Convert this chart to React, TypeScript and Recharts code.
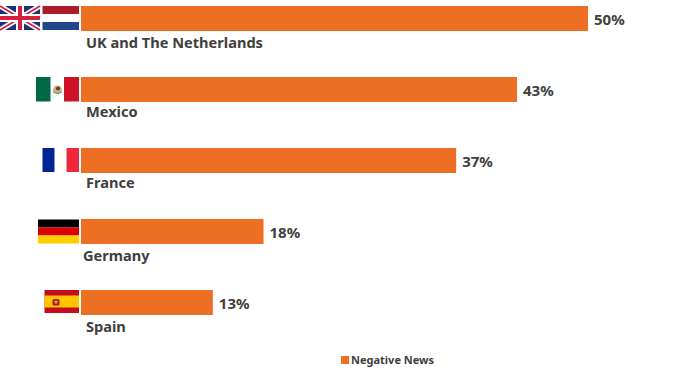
import React from "react";
import { BarChart, Bar, XAxis, YAxis, LabelList, Legend } from "recharts";

const categories = ["UK and The Netherlands", "Mexico", "France", "Germany", "Spain"];
const negativeNews = [50, 43, 37, 18, 13];
const seriesName = "Negative News";
const ORANGE = "#EC6F23";
const TEXT = "#404040";
const FONT = "'Noto Sans', sans-serif";

const rows = categories.map((name, i) => ({ name, value: negativeNews[i] }));

const labelDx = [5, 5, 5, 2, 5];
const labelDy = [29.5, 27.5, 27.5, 29, 29.5];

function Flag({ index }: { index: number }) {
  // local coordinates: x=0 is the axis line (flag right edge just left of it), y=0 is the row centre
  if (index === 0) {
    return (
      <g>
        <rect x={-81} y={-12.5} width={40} height={24} fill="#1D2F7F" />
        <line x1={-81} y1={-12.5} x2={-41} y2={11.5} stroke="#fff" strokeWidth={5} />
        <line x1={-81} y1={11.5} x2={-41} y2={-12.5} stroke="#fff" strokeWidth={5} />
        <line x1={-81} y1={-12.5} x2={-41} y2={11.5} stroke="#D5203C" strokeWidth={1.6} />
        <line x1={-81} y1={11.5} x2={-41} y2={-12.5} stroke="#D5203C" strokeWidth={1.6} />
        <rect x={-81} y={-4.5} width={40} height={8} fill="#fff" />
        <rect x={-65} y={-12.5} width={8} height={24} fill="#fff" />
        <rect x={-81} y={-2.5} width={40} height={4} fill="#D5203C" />
        <rect x={-63} y={-12.5} width={4} height={24} fill="#D5203C" />
        <rect x={-38.5} y={-12.5} width={36.5} height={8} fill="#AE1C28" />
        <rect x={-38.5} y={3.5} width={36.5} height={8} fill="#21468B" />
      </g>
    );
  }
  if (index === 1) {
    return (
      <g>
        <rect x={-45} y={-12.5} width={14.5} height={24.5} fill="#006847" />
        <rect x={-17} y={-12.5} width={15} height={24.5} fill="#CE1126" />
        <ellipse cx={-23.5} cy={0} rx={4.5} ry={4} fill="#C9B28E" />
        <circle cx={-23} cy={-1} r={2} fill="#6B3A1E" />
        <path d="M-28,2 Q-23.5,6 -19,2" stroke="#3E8A5C" strokeWidth={1} fill="none" />
      </g>
    );
  }
  if (index === 2) {
    return (
      <g>
        <rect x={-38.5} y={-12.5} width={12} height={24} fill="#002395" />
        <rect x={-14.5} y={-12.5} width={12.5} height={24} fill="#ED2939" />
      </g>
    );
  }
  if (index === 3) {
    return (
      <g>
        <rect x={-43} y={-12} width={41} height={8} fill="#000000" />
        <rect x={-43} y={-4} width={41} height={8} fill="#DD0000" />
        <rect x={-43} y={4} width={41} height={8} fill="#FFCE00" />
      </g>
    );
  }
  return (
    <g>
      <rect x={-36.5} y={-12.5} width={34.5} height={23} fill="#C60B1E" />
      <rect x={-36.5} y={-7} width={34.5} height={12} fill="#FFC400" />
      <rect x={-28.5} y={-3.5} width={7} height={6.5} rx={1.5} fill="#AD1519" />
      <rect x={-26.5} y={-2} width={3} height={3} fill="#C8A14A" />
    </g>
  );
}

function CategoryTick(props: any) {
  const { y, payload, index } = props;
  const axisX = 81;
  return (
    <g transform={`translate(${axisX},${y})`}>
      <Flag index={index} />
      <text
        x={labelDx[index]}
        y={labelDy[index]}
        fill={TEXT}
        fontFamily={FONT}
        fontSize={14.6}
        fontWeight={700}
      >
        {payload.value}
      </text>
    </g>
  );
}

function LegendBox() {
  return (
    <div
      style={{
        position: "absolute",
        left: 341,
        top: 351,
        display: "flex",
        alignItems: "center",
        fontFamily: FONT,
        fontSize: 11,
        fontWeight: 700,
        color: TEXT,
        lineHeight: "17px",
        whiteSpace: "nowrap",
      }}
    >
      <span style={{ width: 8, height: 8, background: ORANGE, marginRight: 2, display: "inline-block" }} />
      {seriesName}
    </div>
  );
}

export default function App() {
  return (
    <div style={{ position: "absolute", left: 0, top: 0, width: 700, height: 376, background: "#fff" }}>
      <BarChart
        width={700}
        height={376}
        data={rows}
        layout="vertical"
        barCategoryGap={23}
        margin={{ top: -17, right: 112, bottom: 38, left: 0 }}
      >
        <XAxis type="number" domain={[0, 50]} hide />
        <YAxis
          type="category"
          dataKey="name"
          width={81}
          axisLine={false}
          tickLine={false}
          interval={0}
          tick={<CategoryTick />}
        />
        <Legend
          content={<LegendBox />}
          wrapperStyle={{ left: 0, top: 0, bottom: "auto", width: 700, height: 0 }}
        />
        <Bar dataKey="value" name={seriesName} fill={ORANGE} isAnimationActive={false}>
          <LabelList
            dataKey="value"
            position="right"
            offset={6}
            dy={1}
            formatter={(v: number) => `${v}%`}
            fill={TEXT}
            style={{ fontFamily: FONT, fontSize: 15, fontWeight: 700 }}
          />
        </Bar>
      </BarChart>
    </div>
  );
}
